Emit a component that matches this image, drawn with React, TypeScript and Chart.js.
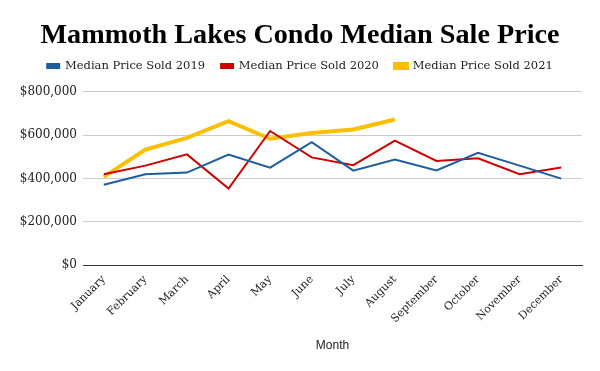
import React, { useEffect, useRef } from "react";
import { Chart, registerables } from "chart.js";

Chart.register(...registerables);

const months = ["January", "February", "March", "April", "May", "June", "July", "August", "September", "October", "November", "December"];
const sold2019 = [371000, 419000, 427000, 510000, 450000, 567000, 436000, 487000, 437000, 518000, 459000, 399000];
const sold2020 = [419000, 459000, 511000, 353000, 619000, 497000, 461000, 575000, 481000, 493000, 419000, 450000];
const sold2021 = [407000, 533000, 587000, 664000, 583000, 610000, 626000, 672000, null, null, null, null];
const yTicks = [0, 200000, 400000, 600000, 800000];

const BLUE = "#1c5d9e";
const RED = "#cc0000";
const YELLOW = "#fcbf00";
const SERIF = "'Liberation Serif', 'DejaVu Serif', serif";
const SERIF2 = "'DejaVu Serif', 'Liberation Serif', serif";

const legendGap = {
  id: "legendGap",
  afterInit(chart: any) {
    const lg = chart.legend;
    if (!lg || lg._patched) return;
    const orig = lg.fit;
    lg.fit = function () {
      orig.call(this);
      this.height += 10;
    };
    lg._patched = true;
  },
};

export default function App() {
  const ref = useRef<HTMLCanvasElement | null>(null);
  useEffect(() => {
    if (!ref.current) return;
    const chart = new Chart(ref.current, {
      type: "line",
      data: {
        labels: months,
        datasets: [
          { label: "Median Price Sold 2019", data: sold2019, borderColor: BLUE, backgroundColor: BLUE, borderWidth: 2, pointRadius: 0, tension: 0 },
          { label: "Median Price Sold 2020", data: sold2020, borderColor: RED, backgroundColor: RED, borderWidth: 2, pointRadius: 0, tension: 0 },
          { label: "Median Price Sold 2021", data: sold2021, borderColor: YELLOW, backgroundColor: YELLOW, borderWidth: 4, pointRadius: 0, tension: 0 },
        ],
      },
      plugins: [legendGap],
      options: {
        responsive: false,
        animation: false,
        maintainAspectRatio: false,
        layout: { padding: { left: 0, right: 0, top: 0, bottom: 0 } },
        plugins: {
          title: {
            display: true,
            text: "Mammoth Lakes Condo Median Sale Price",
            color: "#000",
            font: { family: SERIF, size: 28.2, weight: "bold", lineHeight: 0.6 },
            padding: { top: 27.4, bottom: 0 },
          },
          legend: {
            display: true,
            labels: {
              boxWidth: 12,
              boxHeight: 4,
              color: "#222",
              font: { family: SERIF2, size: 11.5 },
              padding: 16,
            },
          },
          tooltip: { enabled: false },
        },
        scales: {
          x: {
            offset: true,
            afterFit: (scale: any) => {
              scale.height = 106;
            },
            grid: { display: false, drawTicks: false },
            border: { display: true, color: "#333", width: 1 },
            ticks: {
              color: "#222",
              font: { family: SERIF2, size: 11 },
              maxRotation: 45,
              minRotation: 45,
              padding: 8,
              autoSkip: false,
            },
            title: {
              display: true,
              text: "Month",
              color: "#222",
              font: { family: "'Liberation Sans', Arial, sans-serif", size: 12 },
              padding: { top: 0, bottom: 18 },
            },
          },
          y: {
            min: 0,
            max: 800000,
            afterBuildTicks: (scale: any) => {
              scale.ticks = yTicks.map((v) => ({ value: v }));
            },
            afterFit: (scale: any) => {
              scale.width = 83;
            },
            grid: {
              drawTicks: false,
              color: (ctx: any) => (ctx.tick && ctx.tick.value === 0 ? "#333" : "#cccccc"),
            },
            border: { display: false },
            ticks: {
              color: "#222",
              font: { family: SERIF2, size: 12 },
              padding: 6,
              callback: (v: any) => "$" + Number(v).toLocaleString("en-US"),
            },
          },
          yRight: {
            position: "right",
            display: true,
            afterFit: (scale: any) => {
              scale.width = 18;
            },
            grid: { display: false, drawTicks: false },
            border: { display: false },
            ticks: { display: false },
          },
        },
      },
    });
    return () => chart.destroy();
  }, []);
  return (
    <div style={{ position: "fixed", left: 0, top: 0, width: 600, height: 371, background: "#fff" }}>
      <canvas ref={ref} width={600} height={371} style={{ width: 600, height: 371 }} />
    </div>
  );
}
